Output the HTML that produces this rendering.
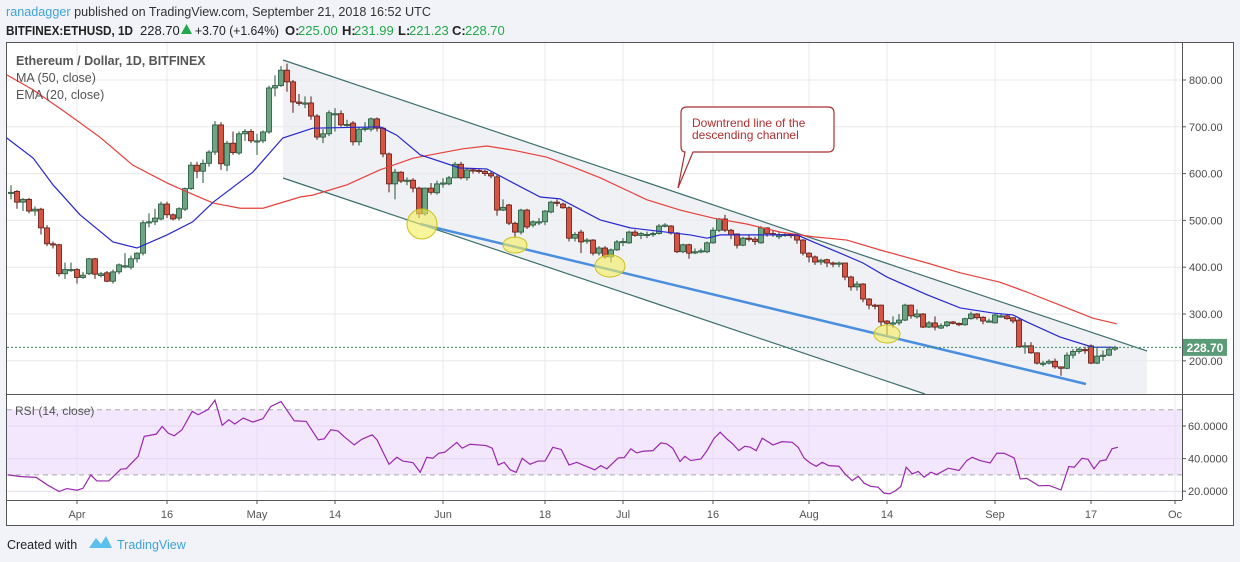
<!DOCTYPE html>
<html><head><meta charset="utf-8"><title>ETHUSD chart</title>
<style>
html,body{margin:0;padding:0;background:#f1f3f8;}
svg{display:block;font-family:"Liberation Sans",sans-serif;}
</style></head>
<body>
<svg id="chart" width="1240" height="562" viewBox="0 0 1240 562">
  <g>
    <text x="6" y="16" font-size="13" fill="#333" textLength="425" lengthAdjust="spacingAndGlyphs"><tspan fill="#3fa3dc">ranadagger</tspan> published on TradingView.com, September 21, 2018 16:52 UTC</text>
    <text x="6" y="35" font-size="13" font-weight="bold" fill="#222" textLength="127" lengthAdjust="spacingAndGlyphs">BITFINEX:ETHUSD, 1D</text>
    <text x="140" y="35" font-size="13" fill="#222">228.70</text>
    <polygon points="181,34 192,34 186.5,24" fill="#22a84a"/>
    <text x="195" y="35" font-size="13" fill="#222" textLength="84" lengthAdjust="spacingAndGlyphs">+3.70 (+1.64%)</text>
    <text x="285" y="35" font-size="13" font-weight="bold" fill="#222">O:</text><text x="298" y="35" font-size="13" fill="#22a84a">225.00</text>
    <text x="342" y="35" font-size="13" font-weight="bold" fill="#222">H:</text><text x="354" y="35" font-size="13" fill="#22a84a">231.99</text>
    <text x="398" y="35" font-size="13" font-weight="bold" fill="#222">L:</text><text x="409" y="35" font-size="13" fill="#22a84a">221.23</text>
    <text x="452" y="35" font-size="13" font-weight="bold" fill="#222">C:</text><text x="465" y="35" font-size="13" fill="#22a84a">228.70</text>
  </g>
  <rect x="6.5" y="42.5" width="1227" height="483" fill="#fff" stroke="#555"/>
  <g id="grid"></g>
  <g id="channel"></g>
  <g id="candles"></g>
  <g id="lines"></g>
  <g id="annot"></g>
  <g id="rsi"></g>
  <g id="axes"></g>
  <g>
    <text x="16" y="65" font-size="12.5" font-weight="bold" fill="#555">Ethereum / Dollar, 1D, BITFINEX</text>
    <text x="16" y="82" font-size="12.5" fill="#555">MA (50, close)</text>
    <text x="16" y="99" font-size="12.5" fill="#555">EMA (20, close)</text>
    <text x="15" y="415" font-size="12" fill="#555">RSI (14, close)</text>
  </g>
  <g>
    <text x="7" y="549" font-size="12.5" fill="#222">Created with</text>
    <path d="M89,548 L96,538 L101,544 L106,536 L112,548 Z" fill="#5bc0eb"/>
    <text x="117" y="549" font-size="12.5" fill="#3fa3dc">TradingView</text>
  </g>
</svg>
<script>
const startDay = -11; // Mar 21 relative to Apr 1
const opens = [558,562,539,545,520,524,484,450,448,386,395,
395,378,386,418,382,388,370,390,402,400,418,430,495,497,503,535,512,505,524,568,618,605,622,646,704,618,665,644,685,690,
670,670,689,783,788,821,796,753,750,751,723,678,685,728,728,704,708,668,695,695,717,697,642,578,603,586,586,569,514,569,559,
578,578,591,620,591,608,607,605,600,593,522,533,494,475,522,490,497,497,518,539,535,527,462,475,456,458,430,441,422,437,
454,452,475,468,470,472,472,488,488,473,433,448,433,433,433,452,479,503,479,471,447,462,460,452,484,472,465,470,470,468,458,
430,422,411,416,409,408,409,379,358,364,332,319,319,285,280,281,287,319,294,300,272,281,270,275,283,280,277,290,300,293,285,
281,296,296,292,287,230,232,217,195,195,199,187,184,212,220,224,232,195,210,212,225];
const highs = [575,565,548,548,530,527,490,455,450,410,410,
398,390,420,420,390,392,395,408,430,425,432,500,515,525,540,540,515,528,570,625,625,630,650,712,710,670,690,690,695,695,
685,692,788,810,830,835,800,770,765,765,727,695,735,740,735,715,712,700,710,720,720,700,645,610,605,592,590,572,570,580,585,
590,595,625,625,612,612,610,608,605,598,545,535,497,525,525,500,505,522,542,545,538,530,475,480,462,460,445,445,440,458,
462,478,480,475,476,476,492,494,490,475,450,450,440,440,455,485,505,512,482,472,465,468,465,488,485,478,475,473,472,470,460,
432,425,418,418,412,412,410,382,370,366,334,322,320,287,295,300,322,320,310,302,285,295,280,285,285,282,292,305,302,295,290,
300,300,298,293,290,240,240,218,200,203,205,188,218,225,228,230,235,228,222,229,231.99];
const lows = [545,525,520,515,510,470,445,440,380,375,390,
365,375,383,375,378,368,365,385,398,395,410,425,485,490,500,505,500,500,520,565,590,580,615,640,608,605,640,640,670,665,
640,665,685,765,785,775,730,745,740,715,672,665,680,690,700,700,660,660,690,690,690,635,560,545,580,575,560,505,510,555,555,
570,575,590,588,585,600,600,595,590,510,520,490,462,470,482,485,490,490,515,530,525,455,455,430,450,425,425,418,410,435,
445,450,465,460,462,465,470,485,470,430,430,418,428,430,430,450,475,475,460,440,445,455,448,450,465,465,460,465,462,450,425,
410,405,405,400,400,400,372,350,350,325,310,310,275,252,270,276,285,290,290,270,270,265,268,272,278,274,275,288,288,278,282,
280,292,288,280,228,215,215,192,188,192,183,168,182,205,215,215,193,193,200,210,221.23];
const closes = [560,539,545,520,524,484,450,448,386,395,395,
378,383,418,385,386,370,390,405,403,418,430,495,497,505,535,512,503,525,568,618,605,622,646,704,621,665,645,685,690,670,
670,689,783,788,821,796,753,750,751,723,678,685,730,728,704,705,668,695,697,717,697,642,578,603,584,586,569,514,569,560,578,
580,591,620,591,608,607,605,600,595,522,528,494,475,522,486,497,497,520,539,537,527,462,470,454,458,430,441,422,437,454,
455,475,468,472,470,472,488,490,473,433,448,430,433,435,452,479,503,479,469,447,462,460,455,484,472,470,470,470,468,458,430,
422,411,415,409,408,409,379,358,364,332,319,318,283,280,281,287,319,296,300,272,281,272,275,283,280,277,290,300,292,285,285,
298,296,290,285,230,232,217,195,195,199,187,184,212,220,225,222,195,210,212,225,228.7];

const emaDays = [-11.7,-7.3,-4,0.5,6,10,15,19.3,22.7,29.3,34.3,39.3,50.5,53.3,57.2,63.8,68.3,72.7,77.2,80.5,87.2,92.2,102.2,105,107.2,120,122.7,127.2,131,135,141.7,147.2,152.7,156,158.3,163.8,169.3,172.7];
const emaVals = [676,633,576,512,454,441,469,497,539,603,676,697,700,682,640,612,610,580,550,546,501,484,469,462,469,469,454,430,409,379,341,313,302,298,283,251,229,229];
const maDays = [-11.7,-7.3,-1.7,3.8,9.3,15,18.3,22.7,27.2,31,37.2,39.3,45,50.5,56,64.3,68.3,72.7,78.3,82.7,87.2,95,100.5,106,111.7,117.2,122.7,128.3,133.8,141.7,147.2,153.8,158.3,163.8,169.3,173.3];
const maVals = [811,779,729,678,618,580,561,537,526,526,550,554,576,608,633,653,659,650,635,614,591,544,522,505,492,475,465,458,437,409,388,368,347,319,291,279];
const rsiDays = [-11.5,-9.5,-6.8,-5,-3,-1.7,0,1,2.3,3.3,5.3,7.3,8.2,10.2,11.2,13.2,14.2,15.2,16.2,17.5,19.2,20.2,21.8,23,24.2,25.3,26.3,27.7,29.3,31,32.3,34,36.2,38.2,40.2,41.2,42.3,43.5,44.5,46.2,47.5,49.2,50,52,53.3,54.3,56,57.2,58.3,59.3,60.3,61.3,63.3,64.2,65.5,68.2,69.2,70.2,71.2,72.2,73.2,74.2,75.5,76.8,78,79.3,80.7,82,83.3,84.3,86.3,87.3,88.3,90.2,91.2,92.3,93.3,94.3,96,97.3,98.3,99.3,100.5,101.3,102.3,104,105,106.2,107.2,108.3,109.3,110.3,111.3,112.2,113.2,114.2,116,117.5,119.2,120.2,121.2,122.2,123.2,124.2,125.3,127,128,129.2,130.2,131.2,132.3,133.5,134.5,135.5,136.5,137.3,138.2,139.2,140.2,141.2,142.3,143.3,145.2,147,148.3,149.2,150.5,152.2,153.3,154.5,156.2,157.2,158.3,160.3,162,164,165.3,166.2,167.5,168.5,169.5,170.5,171.5,172.5,173.5];
const rsiVals = [30,29,28.5,24,19.8,21.6,20.6,21.8,30,26.3,26.3,33.5,33.8,41.4,53.6,55,59.7,55.6,54,57.7,69,66.9,70,75.8,60.4,63.8,61.2,64.9,62.4,64.5,72,75,63.2,62.8,51.5,52.1,57.7,57,53.5,48.4,51.9,54.6,51.5,36.5,40.8,38.5,37.5,31.6,40.8,40.2,43.3,43.9,49.9,46.4,48.8,48,46.4,36.1,37.7,33.1,31.6,40.2,36.5,38.5,38.5,46.9,45.6,36.1,37.7,36.1,33.1,35.7,33.7,40.4,40.6,46,43.5,44.5,44.9,49.6,49,46.3,38.2,41.4,38.8,39.8,44.9,52.5,56.2,52.1,49,44.9,47.6,47,44.9,52.5,48.4,50.4,50,46.9,40.2,37.3,35.3,37.7,35.7,35.3,30.6,26.5,29.2,24.9,22.9,22.5,18.8,18.4,20.5,22.9,34.7,30.6,32.1,28.6,31.7,30.2,34.1,32.7,38.8,40.8,38.8,37.3,43.3,43.3,40.4,27.5,27.9,23.3,23.5,20.8,35.1,34.7,40.2,39.6,33.7,38.6,39.2,46,47];
const priceTicks = [800,700,600,500,400,300,200];
const rsiTicks = [60,40,20];
const xTickDays = [0,15,30,43,61,78,91,106,122,135,153,169,183];
const xTickLabels = ["Apr","16","May","14","Jun","18","Jul","16","Aug","14","Sep","17","Oc"];

const NS = "http://www.w3.org/2000/svg";
const xs = d => 77 + 6 * d;
const yp = p => 80 + (800 - p) * 0.468;
const yr = v => 426 + (60 - v) * 1.63;
function mk(tag, attrs, parent) { const e = document.createElementNS(NS, tag); for (const k in attrs) e.setAttribute(k, attrs[k]); parent.appendChild(e); return e; }
const G = id => document.getElementById(id);

// grid
const grid = G('grid');
priceTicks.forEach(p => { const l = mk('line', {x1:7, x2:1182, y1:yp(p), y2:yp(p), stroke:'#e8e8ec'}, grid);

 });
rsiTicks.forEach(v => { const l = mk('line', {x1:7, x2:1182, y1:yr(v), y2:yr(v), stroke:'#e3dbe8'}, grid);

 });
xTickDays.forEach(d => { const l = mk('line', {x1:xs(d), x2:xs(d), y1:43, y2:500, stroke:'#e8e8ec'}, grid);

 });

// channel
const ch = G('channel');
const cf = mk('polygon', {points:'283,60 1147,351 1147,394 925,394 283,178', fill:'#e9ecf1', opacity:'0.75'}, ch);


const cu = mk('line', {x1:283, y1:60, x2:1147, y2:351, stroke:'#3e6f6c', 'stroke-width':1.2}, ch);


const cl = mk('line', {x1:283, y1:178, x2:925, y2:394, stroke:'#3e6f6c', 'stroke-width':1.2}, ch);



// lines MA / EMA
const ln = G('lines');
const maPath = mk('polyline', {points: maDays.map((d,i)=>xs(d)+','+yp(maVals[i])).join(' '), fill:'none', stroke:'#e8403b', 'stroke-width':1.2}, ln);


const emaPath = mk('polyline', {points: emaDays.map((d,i)=>xs(d)+','+yp(emaVals[i])).join(' '), fill:'none', stroke:'#2727d0', 'stroke-width':1.2}, ln);



// candles
const cg = G('candles');
closes.forEach((c, i) => {
  const x = xs(startDay + i), o = opens[i], up = c >= o;
  const g = mk('g', {}, cg);
  
  
  mk('line', {x1:x, x2:x, y1:yp(highs[i]), y2:yp(lows[i]), stroke: up ? '#225437' : '#5b1a13', 'stroke-width':1}, g);
  const top = yp(Math.max(o, c)), h = Math.max(1.2, Math.abs(yp(o) - yp(c)));
  mk('rect', {x:x-2.5, y:top, width:5, height:h, fill: up ? '#6ba583' : '#d75442', stroke: up ? '#225437' : '#5b1a13', 'stroke-width':0.8}, g);
});

// annotations
const an = G('annot');
const sup = mk('line', {x1:420, y1:224, x2:1086, y2:384, stroke:'#4a8ee0', 'stroke-width':2.5}, an);


[[422,224,15,15],[515,245,12,8],[610,266,15,11],[887,334,13,9]].forEach(c => {
  const e = mk('ellipse', {cx:c[0], cy:c[1], rx:c[2], ry:c[3], fill:'#f5ef5a', 'fill-opacity':0.6, stroke:'#c9c21a'}, an);
  
  
});
const cb = mk('path', {d:'M687,107 H828 Q834,107 834,113 V146 Q834,152 828,152 H693 L678,188 L685,152 Q681,152 681,146 V113 Q681,107 687,107 Z', fill:'#fff', stroke:'#a83232', 'stroke-width':1.2}, an);


const t1 = mk('text', {x:692, y:127, 'font-size':12, fill:'#b03030'}, an); t1.textContent = 'Downtrend line of the';


const t2 = mk('text', {x:692, y:139, 'font-size':12, fill:'#b03030'}, an); t2.textContent = 'descending channel';


const dl = mk('line', {x1:7, x2:1182, y1:yp(228.7), y2:yp(228.7), stroke:'#3e8a5f', 'stroke-dasharray':'2,2'}, an);



// rsi
const rg = G('rsi');
const band = mk('rect', {x:7, y:yr(70), width:1175, height:yr(30)-yr(70), fill:'#e8d4fa', opacity:0.55}, rg);


[70,30].forEach(v => { const l = mk('line', {x1:7, x2:1182, y1:yr(v), y2:yr(v), stroke:'#aaa', 'stroke-dasharray':'5,4'}, rg);

 });
const rl = mk('polyline', {points: rsiDays.map((d,i)=>xs(d)+','+yr(rsiVals[i])).join(' '), fill:'none', stroke:'#9b27b0', 'stroke-width':1.2}, rg);



// axes
const ax = G('axes');
mk('line', {x1:1182.5, x2:1182.5, y1:43, y2:500, stroke:'#555'}, ax);
mk('line', {x1:7, x2:1233, y1:394.5, y2:394.5, stroke:'#555'}, ax);
mk('line', {x1:7, x2:1182, y1:500.5, y2:500.5, stroke:'#555'}, ax);
priceTicks.forEach(p => {
  mk('line', {x1:1182, x2:1186, y1:yp(p), y2:yp(p), stroke:'#555'}, ax);
  const t = mk('text', {x:1189, y:yp(p)+4, 'font-size':11, fill:'#4a4a4a'}, ax); t.textContent = p.toFixed(2);
  
  
});
rsiTicks.forEach(v => {
  mk('line', {x1:1182, x2:1186, y1:yr(v), y2:yr(v), stroke:'#555'}, ax);
  const t = mk('text', {x:1188, y:yr(v)+4, 'font-size':11, fill:'#4a4a4a'}, ax); t.textContent = v.toFixed(4);
  
  
});
xTickDays.forEach((d, i) => {
  mk('line', {x1:xs(d), x2:xs(d), y1:500, y2:504, stroke:'#555'}, ax);
  const t = mk('text', {x:xs(d), y:518, 'font-size':11, fill:'#555', 'text-anchor':'middle'}, ax); t.textContent = xTickLabels[i];
  
  
});
const tag = mk('rect', {x:1183, y:yp(228.7)-8.5, width:44, height:17, fill:'#5b9c78'}, ax);


const tt = mk('text', {x:1205, y:yp(228.7)+4.5, 'font-size':12, fill:'#fff', 'text-anchor':'middle', 'font-weight':'bold'}, ax); tt.textContent = '228.70';


</script>
</body></html>
